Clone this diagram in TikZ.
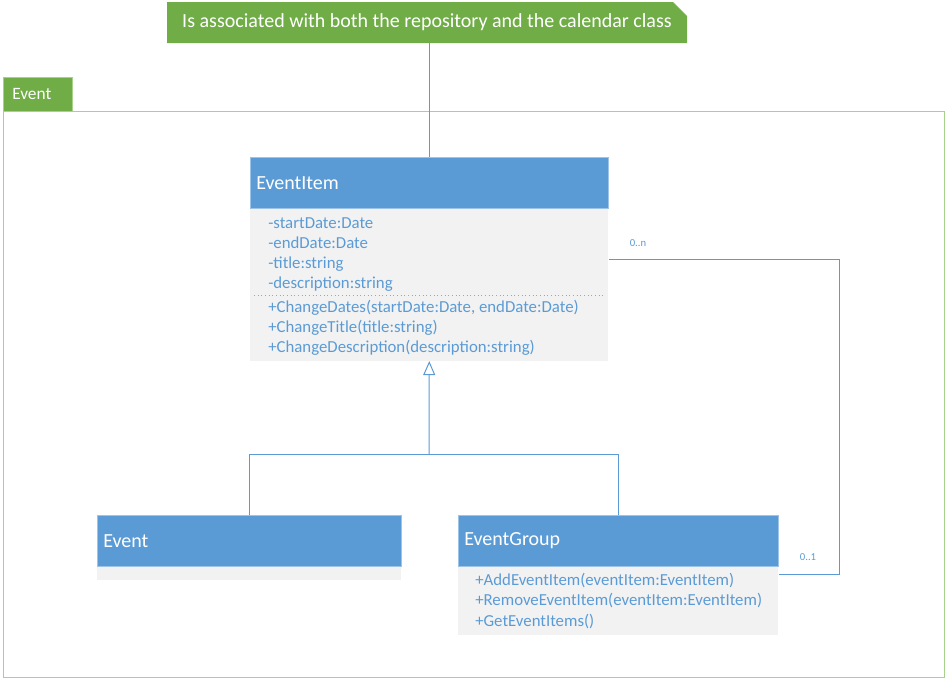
\documentclass[tikz,border=0pt]{standalone}
\usepackage{fontspec}
\setmainfont{Carlito}
\usepackage{tikz}
\usetikzlibrary{arrows.meta}
\definecolor{umlgreen}{HTML}{70AD47}
\definecolor{pkgline}{HTML}{A9D18E}
\definecolor{umlblue}{HTML}{5B9BD5}
\definecolor{umlgray}{HTML}{F2F2F2}
\tikzset{
  classhead/.style={rectangle, fill=umlblue, draw=umlblue!60, text=white, anchor=north west,
    inner xsep=4.5pt, align=left, minimum height=38.25pt, font=\fontsize{15pt}{18pt}\selectfont},
  classbody/.style={rectangle, fill=umlgray, anchor=north west, inner sep=0pt},
  member/.style={anchor=base west, inner sep=0pt, text=umlblue, font=\fontsize{12.6pt}{15pt}\selectfont},
  mult/.style={text=umlblue, inner sep=0pt, font=\fontsize{8pt}{10pt}\selectfont},
  link/.style={draw=umlblue, line width=0.75pt}
}

\begin{document}
\begin{tikzpicture}[x=0.75pt,y=-0.75pt]
\useasboundingbox (0,0) rectangle (946,679);
% draws note
\fill[umlgreen] (167,2) -- (673,2) -- (687,16) -- (687,43) -- (167,43) -- cycle;
\draw[pkgline, line width=0.5pt] (673,2) -- (687,16);
\node[text=white, font=\fontsize{15pt}{18pt}\selectfont] (note) at (427,22.5)
  {Is associated with both the repository and the calendar class};
% draws package
\draw[pkgline, line width=0.75pt] (3,111) rectangle (944,677);
\node[anchor=north west, fill=umlgreen, draw=pkgline, text=white, inner xsep=6.75pt,
  text width=38.25pt, align=left, minimum height=25.5pt,
  font=\fontsize{13pt}{15pt}\selectfont] (pkgtab) at (3,77) {Event};
% draws classes
\node[classhead, text width=259.5pt] (eihead) at (250,157) {EventItem};
\node[classbody, minimum width=268.5pt, minimum height=114pt] (eibody) at (eihead.south west) {};
\node[classhead, text width=219pt] (evhead) at (97,515) {Event};
\node[classbody, minimum width=228pt, minimum height=9.75pt] (evbody) at (evhead.south west) {};
\node[classhead, text width=231pt] (eghead) at (458,515) {EventGroup};
\node[classbody, minimum width=240pt, minimum height=51pt] (egbody) at (eghead.south west) {};
% labels members
\node[member] (a1) at (268,228) {-startDate:Date};
\node[member] (a2) at (268,248) {-endDate:Date};
\node[member] (a3) at (268,268) {-title:string};
\node[member] (a4) at (268,288) {-description:string};
\draw[umlblue!80, dotted, line width=0.75pt] (254,295) -- (604,295);
\node[member] (m1) at (268,312) {+ChangeDates(startDate:Date, endDate:Date)};
\node[member] (m2) at (268,332) {+ChangeTitle(title:string)};
\node[member] (m3) at (268,352) {+ChangeDescription(description:string)};
\node[member] (g1) at (475,585) {+AddEventItem(eventItem:EventItem)};
\node[member] (g2) at (475,605.5) {+RemoveEventItem(eventItem:EventItem)};
\node[member] (g3) at (475,626) {+GetEventItems()};
% draws edges
\draw[draw=umlgreen, line width=0.75pt] (eihead.north |- note.south) -- (eihead.north);
\coordinate (gj) at (429,454);
\draw[link, -{Triangle[open, length=10.5pt, width=9pt]}] (gj) -- (eibody.south);
\draw[link] (evhead.north) |- (gj);
\draw[link] (eghead.north) |- (gj);
\draw[link] ([yshift=18.75pt]eibody.east) -- ++(231,0) |- ([yshift=19.5pt]egbody.east);
\node[mult] (mn) at (638,243) {0..n};
\node[mult] (m1x) at (808,557) {0..1};
\end{tikzpicture}
\end{document}
